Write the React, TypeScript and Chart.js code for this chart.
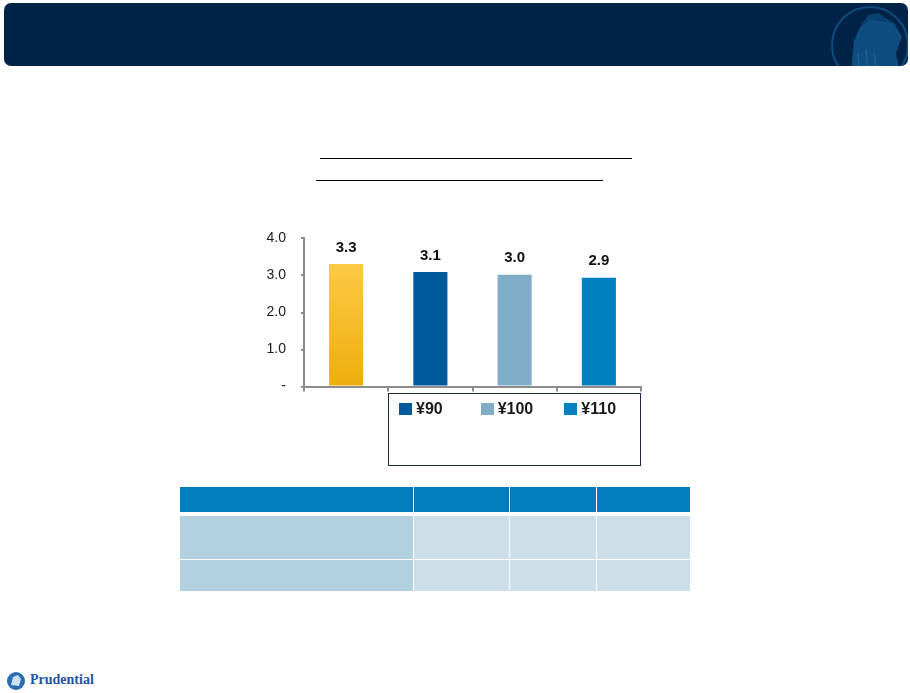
import { useEffect, useRef } from 'react';
import { Chart, registerables } from 'chart.js';
import type { Plugin } from 'chart.js';

Chart.register(...registerables);

// values
const categories = ['', '¥90', '¥100', '¥110'];
const values = [3.31, 3.09, 3.02, 2.94];
const barColors = ['#f2b418', '#005a9c', '#80aec8', '#0080be'];
const legendLabels = ['¥90', '¥100', '¥110'];
const legendColors = ['#005a9c', '#80aec8', '#0080be'];
const yTicks = [0, 1, 2, 3, 4];

const FONT = 'Arial, "Liberation Sans", sans-serif';
const AXIS = '#8c8c8c';

const valueLabels: Plugin<'bar'> = {
  id: 'valueLabels',
  afterDatasetsDraw(chart) {
    const ctx = chart.ctx;
    const meta = chart.getDatasetMeta(0);
    ctx.save();
    ctx.font = `bold 15px ${FONT}`;
    ctx.fillStyle = '#111';
    ctx.textAlign = 'center';
    ctx.textBaseline = 'bottom';
    meta.data.forEach((bar, i) => {
      ctx.fillText(values[i].toFixed(1), bar.x, bar.y - 9);
    });
    ctx.restore();
  },
};

function BarChart() {
  const canvasRef = useRef<HTMLCanvasElement>(null);

  useEffect(() => {
    const canvas = canvasRef.current;
    if (!canvas) return;

    const chart = new Chart(canvas, {
      type: 'bar',
      data: {
        labels: categories,
        datasets: [
          {
            data: values,
            backgroundColor: (c) => {
              if (c.dataIndex !== 0) return barColors[c.dataIndex];
              const area = c.chart.chartArea;
              if (!area) return barColors[0];
              const g = c.chart.ctx.createLinearGradient(0, area.top, 0, area.bottom);
              g.addColorStop(0, '#ffcf52');
              g.addColorStop(1, '#efad0c');
              return g;
            },
            categoryPercentage: 1,
            barPercentage: 0.405,
          },
        ],
      },
      options: {
        responsive: false,
        animation: false,
        layout: { padding: { left: 0, right: 9, top: 21, bottom: 0 } },
        plugins: { legend: { display: false }, tooltip: { enabled: false } },
        scales: {
          x: {
            grid: { drawOnChartArea: false, drawTicks: true, tickLength: 5, color: AXIS, lineWidth: 2, offset: true },
            border: { color: AXIS, width: 2 },
            ticks: { display: false },
            afterFit: (s) => {
              s.height = 8;
            },
          },
          y: {
            min: 0,
            max: 4,
            afterBuildTicks: (s) => {
              s.ticks = yTicks.map((v) => ({ value: v }));
            },
            grid: { drawOnChartArea: false, drawTicks: true, tickLength: 3, color: AXIS, lineWidth: 2 },
            border: { color: AXIS, width: 2 },
            ticks: {
              color: '#1a1a1a',
              padding: 15,
              font: { family: FONT, size: 14 },
              callback: (v) => (Number(v) === 0 ? '-' : Number(v).toFixed(1)),
            },
            afterFit: (s) => {
              s.width = 74;
            },
          },
        },
      },
      plugins: [valueLabels],
    });

    return () => chart.destroy();
  }, []);

  return <canvas ref={canvasRef} width={420} height={195} style={{ position: 'absolute', left: 230, top: 215 }} />;
}

const tableCols = [180, 413, 509, 596, 690];
const tableRows = [
  { top: 487, h: 25, head: true },
  { top: 516, h: 43, head: false },
  { top: 560, h: 31, head: false },
];

export default function App() {
  return (
    <div style={{ position: 'absolute', left: 0, top: 0, width: 910, height: 693, background: '#fff', overflow: 'hidden', fontFamily: FONT }}>
      {/* header band */}
      <div style={{ position: 'absolute', left: 4, top: 3, width: 904, height: 63, background: '#002347', borderRadius: 7, overflow: 'hidden' }}>
        <svg width={110} height={63} style={{ position: 'absolute', right: 0, top: 0 }}>
          <circle cx={72} cy={42} r={38} fill="none" stroke="#0f4d80" strokeWidth={2} />
          <path d="M52 80 L56 38 L62 24 L72 16 L96 20 L104 34 L98 50 L104 80 Z" fill="#0f4d80" />
          <path d="M62 24 L70 12 L80 10 L96 20 L72 16 Z" fill="#0b416e" />
          <path d="M60 50 L62 80 M68 46 L70 80 M76 50 L80 80" stroke="#1d6094" strokeWidth={1.5} />
        </svg>
      </div>

      {/* title placeholders (underlines only) */}
      <div style={{ position: 'absolute', left: 320, top: 158, width: 312, height: 0, borderTop: '1.5px solid #000' }} />
      <div style={{ position: 'absolute', left: 316, top: 180, width: 287, height: 0, borderTop: '1.5px solid #000' }} />

      <BarChart />

      {/* legend box */}
      <div style={{ position: 'absolute', left: 388, top: 393, width: 251, height: 71, border: '1px solid #1a2a44', display: 'flex', alignItems: 'flex-start' }}>
        {legendLabels.map((l, i) => (
          <div key={l} style={{ width: 84, paddingLeft: i === 0 ? 10 : 8, paddingTop: 6, display: 'flex', alignItems: 'center', boxSizing: 'border-box' }}>
            <span style={{ display: 'inline-block', width: 13, height: 12, background: legendColors[i], marginRight: 4 }} />
            <span style={{ fontWeight: 'bold', fontSize: 16, color: '#1a1a1a' }}>{l}</span>
          </div>
        ))}
      </div>

      {/* table */}
      {tableRows.map((r, ri) =>
        tableCols.slice(0, -1).map((x, ci) => (
          <div
            key={`${ri}-${ci}`}
            style={{
              position: 'absolute',
              left: x + (ci === 0 ? 0 : 1),
              top: r.top,
              width: tableCols[ci + 1] - x - (ci === 0 ? 0 : 1),
              height: r.h,
              background: r.head ? '#007dba' : ci === 0 ? '#b3d0de' : '#ccdfe8',
            }}
          />
        ))
      )}

      {/* footer logo */}
      <svg width={22} height={22} style={{ position: 'absolute', left: 5, top: 670 }}>
        <circle cx={11} cy={11} r={9} fill="#2a6db0" />
        <path d="M6 15 L8 7 L13 5 L16 9 L14 16 Z" fill="#cfe0f2" />
      </svg>
      <div style={{ position: 'absolute', left: 30, top: 672, fontFamily: '"Liberation Serif", serif', fontWeight: 'bold', fontSize: 14, color: '#22559e' }}>
        Prudential
      </div>
    </div>
  );
}
